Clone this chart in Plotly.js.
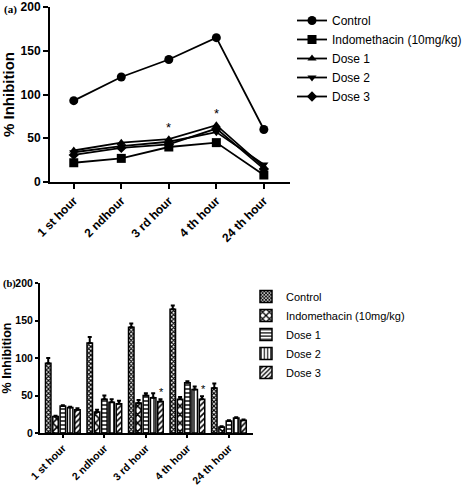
<!DOCTYPE html>
<html><head><meta charset="utf-8">
<script src="https://cdn.plot.ly/plotly-3.0.1.min.js"></script>
<style>body{margin:0;background:#fff}#g{width:473px;height:488px}</style>
</head><body><div id="g"></div>
<script>
const categories = ["1 st hour","2 ndhour","3 rd hour","4 th hour","24 th hour"];
const seriesNames = ["Control","Indomethacin (10mg/kg)","Dose 1","Dose 2","Dose 3"];
// Panel (a) line values
const lineControl = [93,120,140,165,60];
const lineIndo = [22,27,40,45,8];
const lineDose1 = [36,45,49,65,17];
const lineDose2 = [34,41,46,57,20];
const lineDose3 = [31,39,43,61,15];
// Panel (b) bar values and errors
const barControl = [93,120,141,165,60];
const barIndo = [22,28,40,45,8];
const barDose1 = [36,45,50,67,16];
const barDose2 = [34,41,47,58,20];
const barDose3 = [31,39,42,45,17];
const errControl = [7,8,5,5,6];
const errIndo = [1,3,4,3,1];
const errDose1 = [1,5,3,2,1];
const errDose2 = [1,4,6,4,1];
const errDose3 = [2,4,3,4,1];
const yTicks = [0,50,100,150,200];

const lineVals=[lineControl,lineIndo,lineDose1,lineDose2,lineDose3];
const barVals=[barControl,barIndo,barDose1,barDose2,barDose3];
const errVals=[errControl,errIndo,errDose1,errDose2,errDose3];
const symbols=["circle","square","triangle-up","triangle-down","diamond"];
const patterns=[
 {shape:"x",size:3,solidity:0.6},
 {shape:"x",size:6,solidity:0.45},
 {shape:"-",size:4,solidity:0.35},
 {shape:"|",size:4,solidity:0.35},
 {shape:"/",size:4,solidity:0.4}
];
const traces=[];
lineVals.forEach((v,i)=>traces.push({
  type:"scatter",mode:"lines+markers",x:categories,y:v,name:seriesNames[i],
  xaxis:"x",yaxis:"y",legend:"legend",
  line:{color:"#000",width:1.8},
  marker:{symbol:symbols[i],size:i<2?9:8,color:"#000"}
}));
barVals.forEach((v,i)=>traces.push({
  type:"bar",x:categories,y:v,name:seriesNames[i],xaxis:"x2",yaxis:"y2",legend:"legend2",
  marker:{color:"#fff",line:{color:"#000",width:1.5},
    pattern:Object.assign({fgcolor:"#000",bgcolor:"#fff",fillmode:"replace"},patterns[i])},
  error_y:{type:"data",array:errVals[i],arrayminus:errVals[i].map(()=>0),symmetric:false,color:"#000",thickness:2,width:2}
}));
const axBase={showgrid:false,zeroline:false,showline:true,linecolor:"#000",linewidth:2,ticks:"outside",ticklen:5,tickwidth:2,tickcolor:"#000"};
const star={size:13,color:"#000"};
const layout={
  width:473,height:488,margin:{l:0,r:0,t:0,b:0},paper_bgcolor:"#fff",plot_bgcolor:"#fff",
  font:{family:"Liberation Sans, Arial, sans-serif",color:"#000"},
  barmode:"group",bargap:0.12,bargroupgap:0.25,
  xaxis:Object.assign({},axBase,{domain:[50/473,290/473],anchor:"y",type:"category",range:[-0.5,4.55],tickangle:-45,
    tickfont:{size:12,weight:"bold"}}),
  yaxis:Object.assign({},axBase,{domain:[1-182/488,1-7/488],anchor:"x",range:[0,200],tickvals:yTicks,
    tickfont:{size:12,weight:"bold"},title:{text:"% Inhibition",font:{size:15,weight:"bold"},standoff:6}}),
  xaxis2:Object.assign({},axBase,{domain:[40/473,253/473],anchor:"y2",type:"category",range:[-0.55,4.58],tickangle:-45,ticklen:3,
    tickfont:{size:10.5,weight:"bold"}}),
  yaxis2:Object.assign({},axBase,{domain:[1-433/488,1-283/488],anchor:"x2",range:[0,200],tickvals:yTicks,ticklen:3,
    tickfont:{size:10.5,weight:"bold"},title:{text:"% Inhibition",font:{size:12.5,weight:"bold"},standoff:5}}),
  legend:{x:292/473,y:1-6/488,xanchor:"left",yanchor:"top",font:{size:12},bgcolor:"rgba(0,0,0,0)",itemwidth:30,tracegroupgap:0},
  legend2:{x:246/473,y:1-282/488,xanchor:"left",yanchor:"top",font:{size:11},bgcolor:"rgba(0,0,0,0)",itemwidth:30,tracegroupgap:0},
  annotations:[
    {text:"(a)",xref:"paper",yref:"paper",x:2/473,y:1-10/488,xanchor:"left",yanchor:"middle",showarrow:false,font:{family:"Liberation Serif, Times New Roman, serif",size:11,weight:"bold",color:"#000"}},
    {text:"(b)",xref:"paper",yref:"paper",x:1/473,y:1-284/488,xanchor:"left",yanchor:"middle",showarrow:false,font:{family:"Liberation Serif, Times New Roman, serif",size:10.5,weight:"bold",color:"#000"}},
    {text:"*",xref:"x",yref:"y",x:categories[2],y:lineDose1[2],yshift:12,showarrow:false,font:star},
    {text:"*",xref:"x",yref:"y",x:categories[3],y:lineDose1[3],yshift:12,showarrow:false,font:star},
    {text:"*",xref:"x2",yref:"y2",x:categories[2],y:barDose3[2]+errDose3[2],xshift:16,yshift:7,showarrow:false,font:{size:11,color:"#000"}},
    {text:"*",xref:"x2",yref:"y2",x:categories[3],y:barDose3[3]+errDose3[3],xshift:16,yshift:7,showarrow:false,font:{size:11,color:"#000"}}
  ]
};
Plotly.newPlot("g",traces,layout,{displayModeBar:false,staticPlot:true});
</script></body></html>
